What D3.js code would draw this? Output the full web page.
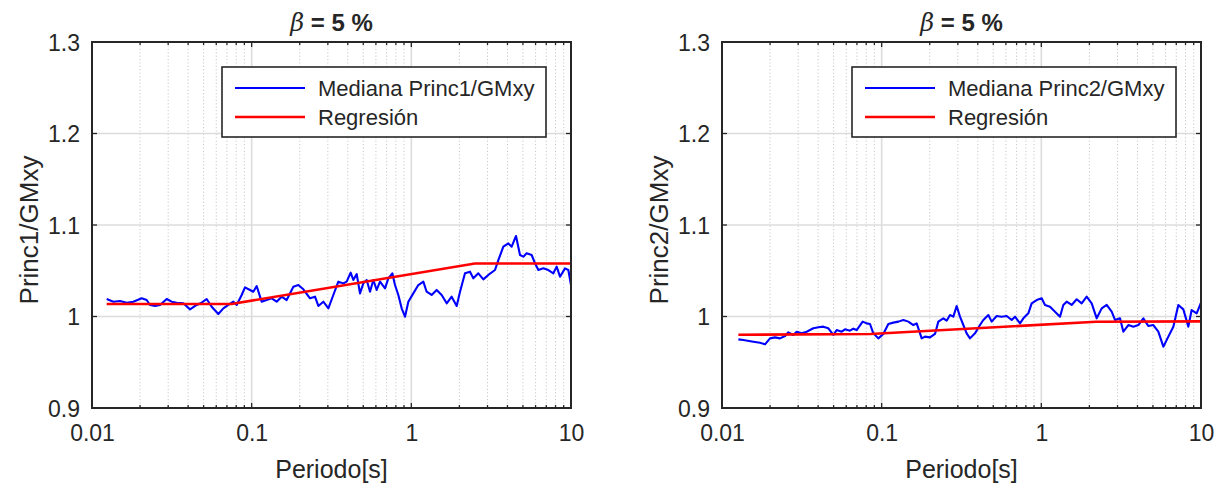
<!DOCTYPE html>
<html>
<head>
<meta charset="utf-8">
<script src="https://cdn.jsdelivr.net/npm/d3@7/dist/d3.min.js"></script>
<style>
  html, body { margin: 0; padding: 0; background: #fff; }
  svg { display: block; font-family: "Liberation Sans", Arial, Helvetica, sans-serif; }
</style>
</head>
<body>
<svg id="chart" width="1226" height="491"></svg>
<script>
// Tick values and labels shared by both panels
const xTickValues = [0.01, 0.1, 1, 10];
const xTickLabels = ["0.01", "0.1", "1", "10"];
const xMinorValues = [0.02, 0.03, 0.04, 0.05, 0.06, 0.07, 0.08, 0.09,
                      0.2, 0.3, 0.4, 0.5, 0.6, 0.7, 0.8, 0.9,
                      2, 3, 4, 5, 6, 7, 8, 9];
const yTickValues = [0.9, 1, 1.1, 1.2, 1.3];
const yTickLabels = ["0.9", "1", "1.1", "1.2", "1.3"];

// Panel 1: median ratio Princ1/GMxy vs period
const periodsP1 = [0.01236, 0.0136, 0.01497, 0.01649, 0.01815, 0.02047, 0.022, 0.02308, 0.02481, 0.02667,
  0.02936, 0.03155, 0.03391, 0.03733, 0.0411, 0.04524, 0.04863, 0.05226, 0.05617, 0.06184,
  0.06646, 0.07143, 0.07678, 0.08056, 0.08659, 0.09083, 0.09762, 0.1024, 0.1075, 0.1128,
  0.1155, 0.1241, 0.1335, 0.1434, 0.1541, 0.1657, 0.1824, 0.196, 0.2107, 0.2319,
  0.2493, 0.2616, 0.2811, 0.3022, 0.3247, 0.349, 0.3751, 0.3936, 0.4169, 0.4332,
  0.4546, 0.477, 0.5005, 0.5252, 0.5511, 0.5781, 0.6067, 0.6366, 0.6842, 0.7178,
  0.7603, 0.7901, 0.829, 0.8699, 0.9128, 0.9577, 1.029, 1.106, 1.189, 1.247,
  1.34, 1.441, 1.549, 1.665, 1.789, 1.923, 2.018, 2.168, 2.331, 2.445,
  2.628, 2.824, 3.036, 3.342, 3.507, 3.77, 4.051, 4.251, 4.524, 4.793,
  5.029, 5.277, 5.671, 5.951, 6.244, 6.711, 7.211, 7.751, 8.133, 8.533,
  9.171, 9.623, 10.0];
const medianP1 = [1.0191, 1.0162, 1.0169, 1.0151, 1.0162, 1.0199, 1.018, 1.0126, 1.0115, 1.0126,
  1.0191, 1.0162, 1.0151, 1.0144, 1.0078, 1.0126, 1.0151, 1.0191, 1.0107, 1.0027,
  1.0089, 1.0126, 1.0162, 1.0126, 1.0235, 1.0319, 1.029, 1.0271, 1.0333, 1.0217,
  1.0162, 1.018, 1.0199, 1.0162, 1.0217, 1.018, 1.0326, 1.0344, 1.0297, 1.0199,
  1.0217, 1.0115, 1.0162, 1.0089, 1.0235, 1.0381, 1.0362, 1.0381, 1.0479, 1.0399,
  1.0464, 1.0253, 1.0362, 1.0399, 1.0271, 1.0399, 1.029, 1.0381, 1.0308, 1.0417,
  1.0472, 1.0344, 1.0235, 1.0089, 0.9998, 1.0162, 1.0253, 1.0344, 1.0381, 1.0271,
  1.0235, 1.029, 1.0235, 1.0144, 1.0217, 1.0115, 1.0271, 1.0472, 1.049, 1.0417,
  1.0472, 1.0406, 1.0454, 1.0508, 1.0617, 1.0763, 1.0799, 1.0763, 1.088, 1.0672,
  1.0654, 1.069, 1.0672, 1.0581, 1.0508, 1.0526, 1.0508, 1.0472, 1.0545, 1.0435,
  1.0526, 1.0508, 1.0344];
const regPeriodsP1 = [0.01236, 0.075, 2.5, 10];
const regressionP1 = [1.0137, 1.0137, 1.058, 1.058];

// Panel 2: median ratio Princ2/GMxy vs period
const periodsP2 = [0.01266, 0.0136, 0.01571, 0.0173, 0.01859, 0.01998, 0.02147, 0.02308, 0.02481, 0.02603,
  0.02797, 0.02936, 0.03155, 0.03391, 0.03733, 0.04012, 0.04311, 0.04634, 0.04981, 0.05226,
  0.05617, 0.05893, 0.06334, 0.06646, 0.06973, 0.07603, 0.08056, 0.08452, 0.08868, 0.09531,
  0.1024, 0.1101, 0.1183, 0.1272, 0.1367, 0.1469, 0.1579, 0.1657, 0.1781, 0.1868,
  0.2008, 0.2158, 0.2264, 0.2434, 0.2553, 0.2679, 0.2811, 0.2949, 0.3094, 0.3247,
  0.3406, 0.3574, 0.3842, 0.4129, 0.4332, 0.4656, 0.4886, 0.5252, 0.5645, 0.6067,
  0.6521, 0.6842, 0.7354, 0.7716, 0.829, 0.8699, 0.935, 1.005, 1.054, 1.133,
  1.218, 1.309, 1.373, 1.441, 1.549, 1.665, 1.789, 1.923, 2.067, 2.222,
  2.388, 2.567, 2.758, 2.894, 3.11, 3.264, 3.507, 3.77, 4.051, 4.354,
  4.679, 5.029, 5.405, 5.809, 6.244, 6.711, 7.211, 7.751, 8.331, 8.739,
  9.395, 10.0];
const medianP2 = [0.975, 0.9743, 0.9725, 0.9714, 0.9696, 0.9761, 0.9772, 0.9761, 0.9787, 0.9827,
  0.9798, 0.9834, 0.9816, 0.9834, 0.9871, 0.9882, 0.9889, 0.9871, 0.9798, 0.9852,
  0.9834, 0.986, 0.9845, 0.9867, 0.9852, 0.9944, 0.9925, 0.9918, 0.9816, 0.9761,
  0.9809, 0.9918, 0.9933, 0.9944, 0.9962, 0.9944, 0.9907, 0.9925, 0.9761, 0.978,
  0.9772, 0.9809, 0.9944, 0.998, 0.9954, 1.0016, 0.9998, 1.0115, 0.9998, 0.9907,
  0.9816, 0.9761, 0.9816, 0.9907, 0.9962, 1.0016, 0.9944, 1.0005, 0.9998, 1.0005,
  0.9962, 0.9998, 0.9925, 0.998, 1.0035, 1.0144, 1.018, 1.0199, 1.0126, 1.0107,
  1.0053, 0.9998, 1.0126, 1.0162, 1.0126, 1.0188, 1.0144, 1.0217, 1.0144, 0.998,
  1.0089, 1.0126, 1.0053, 0.9962, 0.998, 0.9834, 0.9907, 0.9889, 0.9907, 0.998,
  0.9896, 0.9907, 0.9834, 0.967, 0.978, 0.9889, 1.0126, 1.0078, 0.9889, 1.0071,
  1.0035, 1.0151];
const regPeriodsP2 = [0.01266, 0.085, 2.2, 10];
const regressionP2 = [0.980, 0.9808, 0.9942, 0.9947];

const titleText = "= 5 %";
const xLabel = "Periodo[s]";
const yLabels = ["Princ1/GMxy", "Princ2/GMxy"];
const legendMedian = ["Mediana Princ1/GMxy", "Mediana Princ2/GMxy"];
const legendRegression = "Regresión";

const textColor = "#262626";
const svg = d3.select("#chart");
svg.append("rect").attr("width", 1226).attr("height", 491).attr("fill", "#fff");

function drawPanel(idx, left, periods, median, regPeriods, regression) {
  const top = 42, width = 479, height = 366;
  const x = d3.scaleLog().domain([0.01, 10]).range([0, width]);
  const y = d3.scaleLinear().domain([0.9, 1.3]).range([height, 0]);

  const g = svg.append("g").attr("transform", `translate(${left},${top})`);
  const clipId = `clip${idx}`;
  g.append("clipPath").attr("id", clipId)
    .append("rect").attr("width", width).attr("height", height);

  // minor grid (dotted)
  g.append("g").selectAll("line").data(xMinorValues).join("line")
    .attr("x1", d => x(d)).attr("x2", d => x(d))
    .attr("y1", 0).attr("y2", height)
    .attr("stroke", "#c8c8c8").attr("stroke-width", 1)
    .attr("stroke-dasharray", "1.2,2.2");

  // major grid
  g.append("g").selectAll("line").data(xTickValues.slice(1, -1)).join("line")
    .attr("x1", d => x(d)).attr("x2", d => x(d))
    .attr("y1", 0).attr("y2", height)
    .attr("stroke", "#dcdcdc").attr("stroke-width", 1.6);
  g.append("g").selectAll("line").data(yTickValues.slice(1, -1)).join("line")
    .attr("x1", 0).attr("x2", width)
    .attr("y1", d => y(d)).attr("y2", d => y(d))
    .attr("stroke", "#dcdcdc").attr("stroke-width", 1.6);

  // data lines
  const line = d3.line().x(d => x(d[0])).y(d => y(d[1]));
  const plot = g.append("g").attr("clip-path", `url(#${clipId})`);
  plot.append("path")
    .datum(periods.map((p, i) => [p, median[i]]))
    .attr("d", line).attr("fill", "none")
    .attr("stroke", "#0000ff").attr("stroke-width", 2.1).attr("stroke-linejoin", "round");
  plot.append("path")
    .datum(regPeriods.map((p, i) => [p, regression[i]]))
    .attr("d", line).attr("fill", "none")
    .attr("stroke", "#ff0000").attr("stroke-width", 2.6);

  // axes with inward ticks (bottom/top, left/right)
  const minorLen = 3, majorLen = 5;
  const tickGroup = g.append("g").attr("stroke", textColor).attr("stroke-width", 1.3);
  [0, height].forEach(yy => {
    const dir = yy === 0 ? 1 : -1;
    tickGroup.append("g").selectAll("line").data(xMinorValues).join("line")
      .attr("x1", d => x(d)).attr("x2", d => x(d))
      .attr("y1", yy).attr("y2", yy + dir * minorLen);
    tickGroup.append("g").selectAll("line").data(xTickValues).join("line")
      .attr("x1", d => x(d)).attr("x2", d => x(d))
      .attr("y1", yy).attr("y2", yy + dir * majorLen);
  });
  [0, width].forEach(xx => {
    const dir = xx === 0 ? 1 : -1;
    tickGroup.append("g").selectAll("line").data(yTickValues).join("line")
      .attr("x1", xx).attr("x2", xx + dir * majorLen)
      .attr("y1", d => y(d)).attr("y2", d => y(d));
  });

  // frame
  g.append("rect").attr("width", width).attr("height", height)
    .attr("fill", "none").attr("stroke", textColor).attr("stroke-width", 2);

  // tick labels via d3 axes (lines hidden)
  const xAxis = d3.axisBottom(x).tickValues(xTickValues)
    .tickFormat((d, i) => xTickLabels[i]).tickSize(0).tickPadding(17);
  const xa = g.append("g").attr("transform", `translate(0,${height})`).call(xAxis);
  const yAxis = d3.axisLeft(y).tickValues(yTickValues)
    .tickFormat((d, i) => yTickLabels[i]).tickSize(0).tickPadding(12);
  const ya = g.append("g").call(yAxis);
  [xa, ya].forEach(a => {
    a.select(".domain").remove();
    a.selectAll("text").attr("fill", textColor)
      .style("font-size", "23px").style("font-family", "'Liberation Sans', Arial, sans-serif");
  });
  ya.selectAll("text").attr("dy", "0.36em");
  xa.selectAll("text").attr("dy", "0.71em");

  // title
  const title = g.append("text").attr("x", width / 2).attr("y", -11)
    .attr("text-anchor", "middle").attr("fill", textColor)
    .style("font-size", "24px");
  title.append("tspan").attr("font-style", "italic").attr("font-family", "'DejaVu Serif', serif")
    .text("\u03b2");
  title.append("tspan").attr("font-weight", "bold").text(" " + titleText);

  // axis labels
  g.append("text").attr("x", width / 2).attr("y", height + 70)
    .attr("text-anchor", "middle").attr("fill", textColor)
    .style("font-size", "25px").text(xLabel);
  g.append("text")
    .attr("transform", `translate(-54,${height / 2 + 5}) rotate(-90)`)
    .attr("text-anchor", "middle").attr("fill", textColor)
    .style("font-size", "26px").text(yLabels[idx]);

  // legend
  const lw = 324, lh = 70;
  const lg = g.append("g").attr("transform", `translate(${width - 25 - lw},25)`);
  lg.append("rect").attr("width", lw).attr("height", lh)
    .attr("fill", "#fff").attr("stroke", textColor).attr("stroke-width", 1.6);
  const items = [
    { label: legendMedian[idx], color: "#0000ff", w: 2.1 },
    { label: legendRegression, color: "#ff0000", w: 2.6 }
  ];
  items.forEach((it, i) => {
    const cy = 21 + i * 29;
    lg.append("line").attr("x1", 13).attr("x2", 83).attr("y1", cy).attr("y2", cy)
      .attr("stroke", it.color).attr("stroke-width", it.w);
    lg.append("text").attr("x", 96).attr("y", cy).attr("dy", "0.35em")
      .attr("fill", textColor).style("font-size", "22px").text(it.label);
  });
}

drawPanel(0, 92, periodsP1, medianP1, regPeriodsP1, regressionP1);
drawPanel(1, 722, periodsP2, medianP2, regPeriodsP2, regressionP2);
</script>
</body>
</html>
